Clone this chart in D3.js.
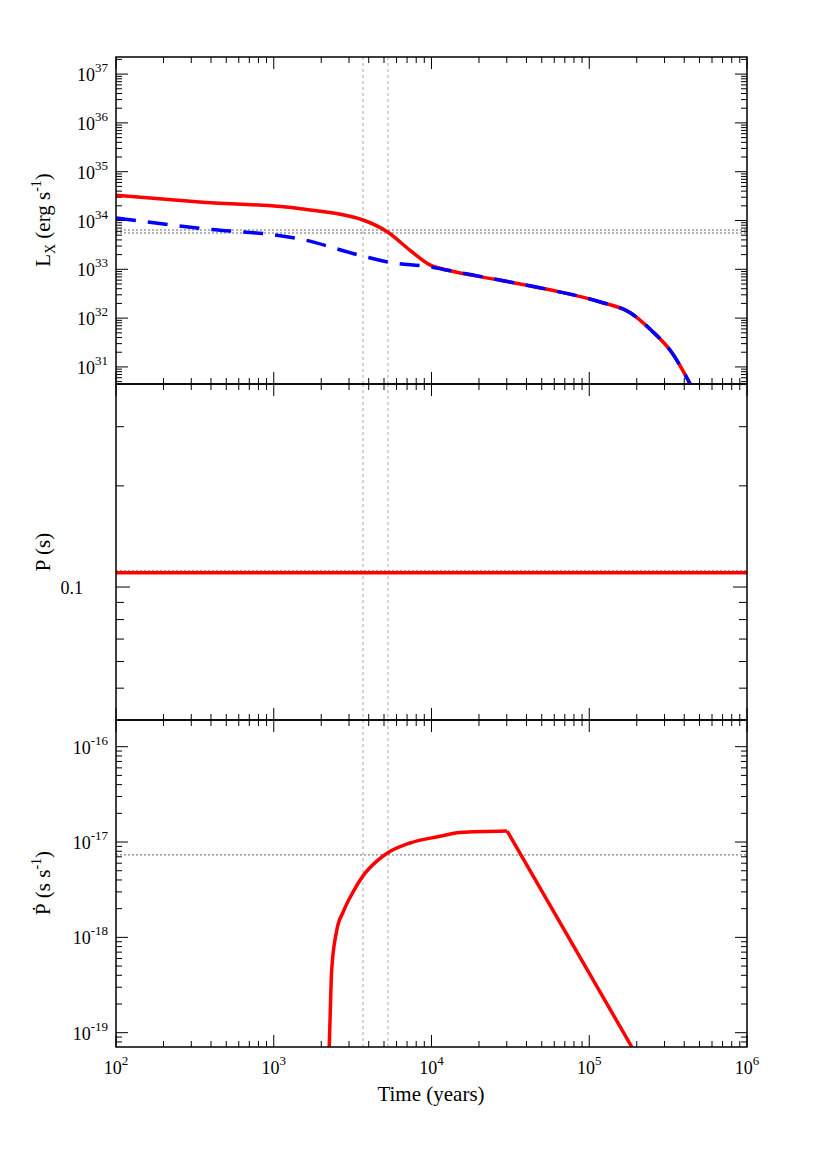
<!DOCTYPE html><html><head><meta charset="utf-8"><script src="https://cdn.jsdelivr.net/npm/d3@7"></script>
<style>body{margin:0;background:#fff}text{font-family:"Liberation Serif","DejaVu Serif",serif}</style></head><body>
<svg id="c" width="830" height="1163"></svg>
<script>
// time in log10(years), values as log10
const lxRedT=[2,2.53,3.17,3.566,3.724,3.86,3.99,4.12,4.43,4.75,5.07,5.26,5.39,5.52,5.64];
const lxRedV=[34.52,34.38,34.24,34.01,33.76,33.40,33.09,32.97,32.78,32.58,32.33,32.11,31.76,31.31,30.65];
const lxBlueT=[2,2.53,3.17,3.566,3.724,3.99,4.12,4.43,4.75,5.07,5.26,5.39,5.52,5.64];
const lxBlueV=[34.05,33.84,33.62,33.27,33.15,33.05,32.97,32.78,32.58,32.33,32.11,31.76,31.31,30.65];
const pT=[2,6];const pV=[0.1103,0.1103];
const pdotT=[3.349,3.358,3.367,3.399,3.441,3.504,3.568,3.653,3.726,3.864,4.054,4.18,4.48,5.27];
const pdotV=[-19.3,-18.8,-18.35,-17.93,-17.73,-17.52,-17.35,-17.20,-17.11,-17.01,-16.94,-16.90,-16.885,-19.15];
const xTicks=[2,3,4,5,6];
const lxTicks=[31,32,33,34,35,36,37];
const pdotTicks=[-19,-18,-17,-16];
const vLines=[3.566,3.724];
const lxRef=[33.805,33.744], pRef=0.1117, pdotRef=-17.135;

const svg=d3.select("#c");
const L=116,R=747;
const x=d3.scaleLinear().domain([2,6]).range([L,R]);
const panels=[{t:57,b:384,d:[30.65,37.35]},{t:384,b:720},{t:720,b:1047,d:[-19.15,-15.72]}];
const y1=d3.scaleLinear().domain(panels[0].d).range([384,57]);
const y2=d3.scaleLog().domain([0.0402,0.402]).range([720,384]);
const y3=d3.scaleLinear().domain(panels[2].d).range([1047,720]);
const clipIds=["c1","c2","c3"];
panels.forEach((p,i)=>svg.append("clipPath").attr("id",clipIds[i]).append("rect").attr("x",L).attr("y",p.t).attr("width",R-L).attr("height",p.b-p.t));
const xMinor=[];for(let e=2;e<6;e++)for(let m=2;m<=9;m++)xMinor.push(e+Math.log10(m));
panels.forEach((p,i)=>{
  const g=svg.append("g");
  xTicks.forEach(v=>{g.append("line").attr("x1",x(v)).attr("x2",x(v)).attr("y1",p.b).attr("y2",p.b-12).attr("stroke","#000");
    g.append("line").attr("x1",x(v)).attr("x2",x(v)).attr("y1",p.t).attr("y2",p.t+12).attr("stroke","#000");});
  xMinor.forEach(v=>{g.append("line").attr("x1",x(v)).attr("x2",x(v)).attr("y1",p.b).attr("y2",p.b-6).attr("stroke","#000");
    g.append("line").attr("x1",x(v)).attr("x2",x(v)).attr("y1",p.t).attr("y2",p.t+6).attr("stroke","#000");});
  vLines.forEach(v=>g.append("line").attr("x1",x(v)).attr("x2",x(v)).attr("y1",p.t).attr("y2",p.b).attr("stroke","#aaa").attr("stroke-dasharray","3,3").attr("stroke-width",1));
});
function yTicksLog(y,ticks,dom){
  const g=svg.append("g");
  ticks.forEach(v=>{[L,R].forEach((xx,k)=>g.append("line").attr("x1",xx).attr("x2",xx+(k?-12:12)).attr("y1",y(v)).attr("y2",y(v)).attr("stroke","#000"));
    const t=g.append("text").attr("x",L-8).attr("y",y(v)+7).attr("text-anchor","end").attr("font-family","Liberation Sans").attr("font-size",18);
    t.append("tspan").text("10");t.append("tspan").attr("dy",-9).attr("font-size",13).text(v);});
  for(let e=Math.floor(dom[0]);e<dom[1];e++)for(let m=2;m<=9;m++){const v=e+Math.log10(m);if(v<dom[0]||v>dom[1])continue;
    [L,R].forEach((xx,k)=>g.append("line").attr("x1",xx).attr("x2",xx+(k?-6:6)).attr("y1",y(v)).attr("y2",y(v)).attr("stroke","#000"));}
}
yTicksLog(y1,lxTicks,panels[0].d);
yTicksLog(y3,pdotTicks,panels[2].d);
[0.05,0.06,0.07,0.08,0.09,0.1,0.2,0.3].forEach(v=>{const big=v===0.1;
  [L,R].forEach((xx,k)=>svg.append("line").attr("x1",xx).attr("x2",xx+(k?-1:1)*(big?14:8)).attr("y1",y2(v)).attr("y2",y2(v)).attr("stroke","#000"));});
svg.append("text").attr("x",L-33).attr("y",y2(0.1)+7).attr("text-anchor","end").attr("font-family","Liberation Sans").attr("font-size",18).text("0.1");
lxRef.forEach(v=>svg.append("line").attr("x1",L).attr("x2",R).attr("y1",y1(v)).attr("y2",y1(v)).attr("stroke","#666").attr("stroke-dasharray","2,2"));
svg.append("line").attr("x1",L).attr("x2",R).attr("y1",y2(pRef)).attr("y2",y2(pRef)).attr("stroke","#666").attr("stroke-dasharray","2,2");
svg.append("line").attr("x1",L).attr("x2",R).attr("y1",y3(pdotRef)).attr("y2",y3(pdotRef)).attr("stroke","#666").attr("stroke-dasharray","2,2");
const ln=(ys)=>d3.line().x(d=>x(d[0])).y(d=>ys(d[1])).curve(d3.curveMonotoneX);
svg.append("path").attr("clip-path","url(#c1)").attr("d",ln(y1)(d3.zip(lxRedT,lxRedV))).attr("fill","none").attr("stroke","red").attr("stroke-width",3.5);
svg.append("path").attr("clip-path","url(#c1)").attr("d",ln(y1)(d3.zip(lxBlueT,lxBlueV))).attr("fill","none").attr("stroke","blue").attr("stroke-width",3.5).attr("stroke-dasharray","20,12");
svg.append("path").attr("clip-path","url(#c2)").attr("d",d3.line().x(d=>x(d[0])).y(d=>y2(d[1]))(d3.zip(pT,pV))).attr("fill","none").attr("stroke","red").attr("stroke-width",3.5);
svg.append("path").attr("clip-path","url(#c3)").attr("d",d3.line().x(d=>x(d[0])).y(d=>y3(d[1])).curve(d3.curveMonotoneX)(d3.zip(pdotT.slice(0,13),pdotV.slice(0,13)))).attr("fill","none").attr("stroke","red").attr("stroke-width",3.5);
svg.append("path").attr("clip-path","url(#c3)").attr("d",d3.line().x(d=>x(d[0])).y(d=>y3(d[1]))(d3.zip(pdotT.slice(12),pdotV.slice(12)))).attr("fill","none").attr("stroke","red").attr("stroke-width",3.5);
panels.forEach(p=>svg.append("rect").attr("x",L).attr("y",p.t).attr("width",R-L).attr("height",p.b-p.t).attr("fill","none").attr("stroke","#000").attr("stroke-width",1.5));
xTicks.forEach(v=>{const t=svg.append("text").attr("x",x(v)).attr("y",1074).attr("text-anchor","middle").attr("font-family","Liberation Sans").attr("font-size",18);
  t.append("tspan").text("10");t.append("tspan").attr("dy",-9).attr("font-size",13).text(v);});
svg.append("text").attr("x",431).attr("y",1101).attr("text-anchor","middle").attr("font-size",21).text("Time (years)");
const yl1=svg.append("text").attr("transform","translate(50,220) rotate(-90)").attr("text-anchor","middle").attr("font-size",21);
yl1.append("tspan").text("L");yl1.append("tspan").attr("dy",5).attr("font-size",14).text("X");yl1.append("tspan").attr("dy",-5).text(" (erg s");yl1.append("tspan").attr("dy",-9).attr("font-size",14).text("-1");yl1.append("tspan").attr("dy",9).text(")");
svg.append("text").attr("transform","translate(50,552) rotate(-90)").attr("text-anchor","middle").attr("font-size",21).text("P (s)");
const yl3=svg.append("text").attr("transform","translate(50,883) rotate(-90)").attr("text-anchor","middle").attr("font-size",21);
yl3.append("tspan").text("Ṗ (s s");yl3.append("tspan").attr("dy",-9).attr("font-size",14).text("-1");yl3.append("tspan").attr("dy",9).text(")");
</script></body></html>
